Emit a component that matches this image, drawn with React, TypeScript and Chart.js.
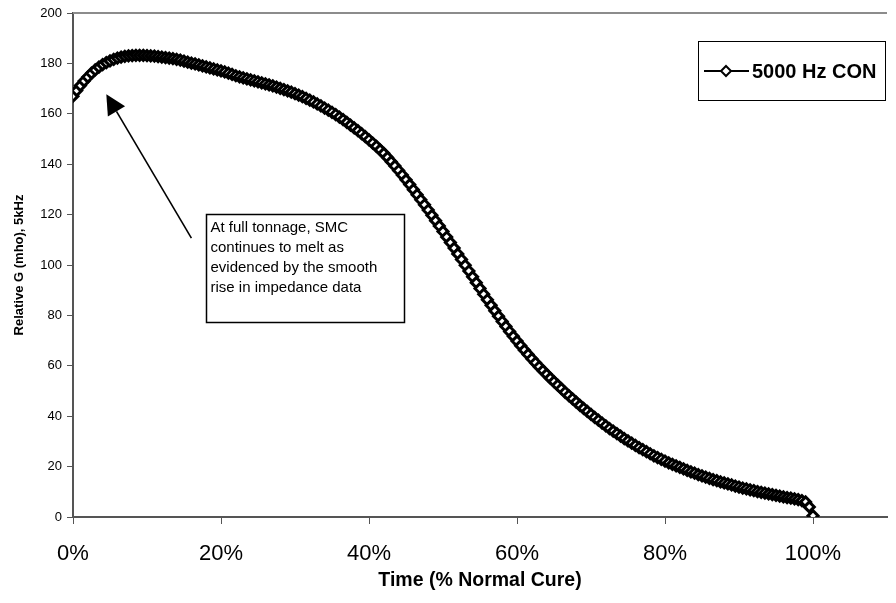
import React, { useEffect, useRef } from "react";
import { Chart, registerables } from "chart.js";

Chart.register(...registerables);

const SERIES_LABEL = "5000 Hz CON";
const X_TITLE = "Time (% Normal Cure)";
const Y_TITLE = "Relative G (mho), 5kHz";
// readings were taken every 0.5 % of the normal cure time
const SAMPLE_STEP = 0.005;

const relativeG = [
  167.0, 169.2, 171.2, 173.0, 174.6, 176.1, 177.4, 178.5, 179.5, 180.3,
  181.0, 181.6, 182.1, 182.5, 182.8, 183.0, 183.1, 183.2, 183.2, 183.2,
  183.1, 183.0, 182.9, 182.7, 182.5, 182.3, 182.1, 181.9, 181.6, 181.3,
  180.9, 180.5, 180.1, 179.8, 179.4, 179.0, 178.6, 178.2, 177.8, 177.4,
  177.0, 176.6, 176.1, 175.6, 175.1, 174.7, 174.3, 173.9, 173.5, 173.1,
  172.7, 172.3, 171.9, 171.5, 171.1, 170.6, 170.1, 169.6, 169.1, 168.6,
  168.0, 167.4, 166.8, 166.1, 165.4, 164.7, 163.9, 163.1, 162.3, 161.5,
  160.6, 159.7, 158.7, 157.7, 156.6, 155.5, 154.4, 153.3, 152.1, 150.9,
  149.7, 148.4, 147.1, 145.7, 144.3, 142.7, 141.0, 139.3, 137.5, 135.7,
  133.8, 131.9, 129.9, 127.9, 125.9, 123.9, 121.8, 119.7, 117.6, 115.5,
  113.3, 111.1, 108.9, 106.7, 104.4, 102.2, 99.9, 97.6, 95.3, 93.0,
  90.7, 88.4, 86.2, 84.0, 81.8, 79.7, 77.6, 75.6, 73.6, 71.7,
  69.8, 68.0, 66.2, 64.5, 62.8, 61.2, 59.6, 58.1, 56.6, 55.1,
  53.7, 52.3, 50.9, 49.5, 48.2, 46.9, 45.6, 44.3, 43.1, 41.9,
  40.7, 39.5, 38.4, 37.3, 36.2, 35.1, 34.1, 33.1, 32.1, 31.1,
  30.2, 29.3, 28.4, 27.5, 26.7, 25.9, 25.1, 24.3, 23.6, 22.9,
  22.2, 21.5, 20.9, 20.3, 19.7, 19.1, 18.5, 17.9, 17.4, 16.8,
  16.3, 15.8, 15.3, 14.8, 14.4, 13.9, 13.5, 13.1, 12.7, 12.3,
  11.9, 11.5, 11.2, 10.8, 10.5, 10.1, 9.8, 9.5, 9.2, 8.9,
  8.6, 8.3, 8.0, 7.7, 7.5, 7.2, 6.9, 6.5, 6.0, 4.0,
  0.5,
];

const X_MIN = 0;
const X_MAX = 1.1;
const X_STEP = 0.2;
const Y_MIN = 0;
const Y_MAX = 200;
const Y_STEP = 20;

const noteLines = [
  "At full tonnage, SMC",
  "continues to melt as",
  "evidenced by the smooth",
  "rise in impedance data",
];
// note box corners and arrow, in data units
const noteBox = { x0: 0.18, x1: 0.447, yTop: 120.2, yBottom: 77.4 };
const arrowTail = { x: 0.16, y: 110.7 };
const arrowTip = { x: 0.045, y: 167.8 };

const FONT = '"Liberation Sans", Arial, Helvetica, sans-serif';

const decorPlugin = {
  id: "decor",
  afterDatasetsDraw(chart: any) {
    const { ctx, chartArea, scales } = chart;
    const xs = scales.x;
    const ys = scales.y;
    ctx.save();

    // plot area top border
    ctx.strokeStyle = "#8c8c8c";
    ctx.lineWidth = 2;
    ctx.beginPath();
    ctx.moveTo(chartArea.left, chartArea.top);
    ctx.lineTo(chartArea.right, chartArea.top);
    ctx.stroke();

    // note box
    const bx0 = Math.round(xs.getPixelForValue(noteBox.x0)) + 0.5;
    const bx1 = Math.round(xs.getPixelForValue(noteBox.x1)) + 0.5;
    const by0 = Math.round(ys.getPixelForValue(noteBox.yTop)) + 0.5;
    const by1 = Math.round(ys.getPixelForValue(noteBox.yBottom)) + 0.5;
    ctx.fillStyle = "#ffffff";
    ctx.fillRect(bx0, by0, bx1 - bx0, by1 - by0);
    ctx.strokeStyle = "#000000";
    ctx.lineWidth = 1.5;
    ctx.strokeRect(bx0, by0, bx1 - bx0, by1 - by0);
    ctx.fillStyle = "#000000";
    ctx.font = `15px ${FONT}`;
    ctx.textAlign = "left";
    ctx.textBaseline = "middle";
    noteLines.forEach((line, i) => {
      ctx.fillText(line, bx0 + 4, by0 + 13 + i * 20);
    });

    // arrow
    const tx = xs.getPixelForValue(arrowTail.x);
    const ty = ys.getPixelForValue(arrowTail.y);
    const hx = xs.getPixelForValue(arrowTip.x);
    const hy = ys.getPixelForValue(arrowTip.y);
    const ang = Math.atan2(hy - ty, hx - tx);
    const headLen = 20;
    const headHalf = 10;
    const bxm = hx - Math.cos(ang) * headLen;
    const bym = hy - Math.sin(ang) * headLen;
    ctx.strokeStyle = "#000000";
    ctx.lineWidth = 1.6;
    ctx.beginPath();
    ctx.moveTo(tx, ty);
    ctx.lineTo(bxm, bym);
    ctx.stroke();
    ctx.fillStyle = "#000000";
    ctx.beginPath();
    ctx.moveTo(hx, hy);
    ctx.lineTo(bxm + Math.sin(ang) * headHalf, bym - Math.cos(ang) * headHalf);
    ctx.lineTo(bxm - Math.sin(ang) * headHalf, bym + Math.cos(ang) * headHalf);
    ctx.closePath();
    ctx.fill();

    // legend
    const ds = chart.data.datasets[0];
    const lx0 = 698.5;
    const lx1 = 885.5;
    const ly0 = 41.5;
    const ly1 = 100.5;
    ctx.fillStyle = "#ffffff";
    ctx.fillRect(lx0, ly0, lx1 - lx0, ly1 - ly0);
    ctx.strokeStyle = "#000000";
    ctx.lineWidth = 1;
    ctx.strokeRect(lx0, ly0, lx1 - lx0, ly1 - ly0);
    const ly = (ly0 + ly1) / 2;
    ctx.strokeStyle = ds.borderColor;
    ctx.lineWidth = 2;
    ctx.beginPath();
    ctx.moveTo(704, ly);
    ctx.lineTo(749, ly);
    ctx.stroke();
    const r = ds.pointRadius;
    const cx = 726;
    ctx.fillStyle = ds.pointBackgroundColor;
    ctx.strokeStyle = ds.pointBorderColor;
    ctx.lineWidth = 2;
    ctx.beginPath();
    ctx.moveTo(cx, ly - r);
    ctx.lineTo(cx + r, ly);
    ctx.lineTo(cx, ly + r);
    ctx.lineTo(cx - r, ly);
    ctx.closePath();
    ctx.fill();
    ctx.stroke();
    ctx.fillStyle = "#000000";
    ctx.font = `bold 20px ${FONT}`;
    ctx.textAlign = "left";
    ctx.textBaseline = "middle";
    ctx.fillText(ds.label, 752, ly + 1);

    ctx.restore();
  },
};

export default function App() {
  const canvasRef = useRef<HTMLCanvasElement | null>(null);

  useEffect(() => {
    const canvas = canvasRef.current;
    if (!canvas) return;
    const points = relativeG.map((v, i) => ({ x: i * SAMPLE_STEP, y: v }));
    const chart = new Chart(canvas, {
      type: "scatter",
      data: {
        datasets: [
          {
            label: SERIES_LABEL,
            data: points,
            showLine: true,
            borderColor: "#000000",
            borderWidth: 1.5,
            pointStyle: "rectRot",
            pointRadius: 5,
            pointBorderWidth: 3,
            pointBorderColor: "#000000",
            pointBackgroundColor: "#ffffff",
          } as any,
        ],
      },
      options: {
        responsive: false,
        animation: false,
        devicePixelRatio: 1,
        layout: { padding: { top: 13, left: 0, right: 0, bottom: 0 } },
        plugins: {
          legend: { display: false },
          tooltip: { enabled: false },
        },
        scales: {
          x: {
            type: "linear",
            min: X_MIN,
            max: X_MAX,
            afterFit: (s: any) => {
              s.height = 86;
            },
            ticks: {
              stepSize: X_STEP,
              color: "#000000",
              padding: 17,
              maxRotation: 0,
              font: { family: FONT, size: 22 },
              callback: (v: any) => (Number(v) > 1.0001 ? "" : Math.round(Number(v) * 100) + "%"),
            },
            grid: {
              drawOnChartArea: false,
              drawTicks: true,
              tickLength: 7,
              color: (c: any) => (c.tick && c.tick.value > 1.0001 ? "rgba(0,0,0,0)" : "#555555"),
            },
            border: { display: true, color: "#555555", width: 2 },
            title: {
              display: true,
              text: X_TITLE,
              color: "#000000",
              font: { family: FONT, size: 19.5, weight: "bold" },
              padding: { top: 0, bottom: 11 },
            },
          },
          y: {
            type: "linear",
            min: Y_MIN,
            max: Y_MAX,
            afterFit: (s: any) => {
              s.width = 73;
            },
            ticks: {
              stepSize: Y_STEP,
              color: "#000000",
              padding: 5,
              font: { family: FONT, size: 13 },
            },
            grid: {
              drawOnChartArea: false,
              drawTicks: true,
              tickLength: 6,
              color: "#555555",
            },
            border: { display: true, color: "#555555", width: 2 },
            title: {
              display: true,
              text: Y_TITLE,
              color: "#000000",
              font: { family: FONT, size: 13, weight: "bold" },
              padding: { top: 12, bottom: 0 },
            },
          },
        },
      } as any,
      plugins: [decorPlugin],
    });
    return () => chart.destroy();
  }, []);

  return (
    <div
      style={{
        position: "absolute",
        left: 0,
        top: 0,
        width: 896,
        height: 603,
        overflow: "hidden",
        background: "#ffffff",
      }}
    >
      <canvas ref={canvasRef} width={904} height={603} style={{ display: "block" }} />
    </div>
  );
}
